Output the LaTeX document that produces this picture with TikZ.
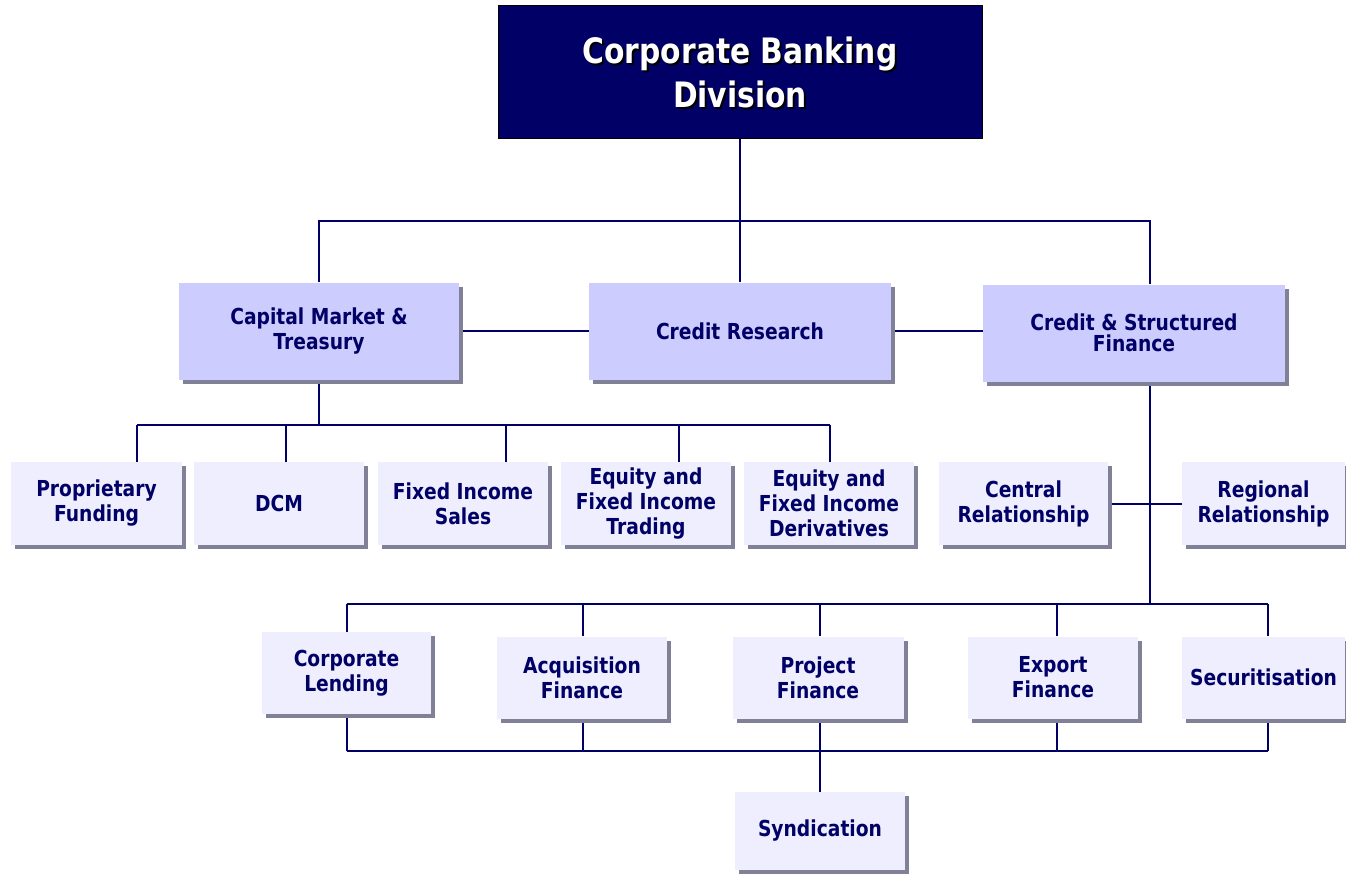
\documentclass[tikz,border=0pt]{standalone}
\usepackage{fontspec}
\setmainfont{DejaVu Sans}[FakeStretch=0.85]
\usetikzlibrary{shadows,backgrounds}

\definecolor{navy}{RGB}{0,0,102}
\definecolor{unitfill}{RGB}{204,204,255}
\definecolor{deskfill}{RGB}{238,238,255}
\definecolor{shadowgray}{RGB}{128,128,150}

\tikzset{
  link/.style={draw=navy, line width=2pt},
  unitbox/.style={fill=unitfill, text=navy, align=center, inner sep=0pt,
    font=\bfseries\fontsize{22}{25}\selectfont, minimum height=97pt,
    drop shadow={shadow xshift=4pt, shadow yshift=-4pt, fill=shadowgray, opacity=1}},
  deskbox/.style={unitbox, fill=deskfill, minimum width=170pt, minimum height=82pt},
  headtext/.style={font=\bfseries\fontsize{35}{44}\selectfont, align=center}
}

\begin{document}
\begin{tikzpicture}[x=1pt, y=-1pt]
  \useasboundingbox (0,0) rectangle (1346,873);

  % division
  \node[fill=navy, draw=black, line width=1pt, minimum width=484pt, minimum height=133pt] (div) at (740,72) {};
  \node[headtext, text=black] (divshade) at ([shift={(2,2)}]div.center) {Corporate Banking\\Division};
  \node[headtext, text=white] (divtitle) at (div.center) {Corporate Banking\\Division};

  % departments
  \node[unitbox, minimum width=280pt] (cmt) at (319,331) {Capital Market \&\\Treasury};
  \node[unitbox, minimum width=302pt] (cres) at (740,331) {Credit Research};
  \node[unitbox, minimum width=302pt, font=\bfseries\fontsize{22}{21}\selectfont] (csf) at (1134,333) {Credit \& Structured\\Finance};

  % desks under capital market
  \node[deskbox, minimum width=171pt, minimum height=83pt] (prop) at (96.5,503.5) {Proprietary\\Funding};
  \node[deskbox, minimum height=83pt] (dcm) at (279,503.5) {DCM};
  \node[deskbox, minimum height=83pt] (fis) at (463,503.5) {Fixed Income\\Sales};
  \node[deskbox, minimum height=83pt] (efit) at (646,503.5) {Equity and\\Fixed Income\\Trading};
  \node[deskbox, minimum height=83pt] (efid) at (829,503.5) {Equity and\\Fixed Income\\Derivatives};

  % desks under credit & structured finance
  \node[deskbox, minimum width=169pt, minimum height=83pt] (cent) at (1023.5,503.5) {Central\\Relationship};
  \node[deskbox, minimum width=163pt, minimum height=83pt] (reg) at (1263.5,503.5) {Regional\\Relationship};
  \node[deskbox, minimum width=169pt] (corp) at (346.5,673) {Corporate\\Lending};
  \node[deskbox] (acq) at (582,677.5) {Acquisition\\Finance};
  \node[deskbox, minimum width=171pt] (proj) at (818,677.5) {Project\\Finance};
  \node[deskbox] (expf) at (1053,677.5) {Export\\Finance};
  \node[deskbox, minimum width=163pt] (sec) at (1263.5,677.5) {Securitisation};
  \node[deskbox, minimum height=78pt] (synd) at (820,831) {Syndication};

  \begin{scope}[on background layer]
    \coordinate (hub) at (740,221);
    \draw[link] (div.south) -- (cres.north);
    \draw[link] (cmt.north) |- (hub) -| ([xshift=16pt]csf.north);
    \draw[link] (cmt.east) -- (cres.west);
    \draw[link] (cres.east) -- (cres.east -| csf.west);

    \coordinate (bus) at (319,425);
    \draw[link] (cmt.south) -- (bus);
    \foreach \desk/\x in {prop/137, dcm/286, fis/506, efit/679, efid/830} {
      \coordinate (leg-\desk) at (\x,425);
      \draw[link] (leg-\desk) -- (leg-\desk |- \desk.north);
    }
    \draw[link] (leg-prop) -- (leg-efid);

    \coordinate (spine) at (1150,604);
    \draw[link] ([xshift=16pt]csf.south) -- (spine);
    \draw[link] (cent.east) -- (reg.west);
    \foreach \desk/\x in {corp/347, acq/583, proj/820, expf/1057, sec/1268} {
      \coordinate (up-\desk) at (\x,604);
      \coordinate (dn-\desk) at (\x,751);
      \draw[link] (up-\desk) -- (up-\desk |- \desk.north);
      \draw[link] (dn-\desk) -- (dn-\desk |- \desk.south);
    }
    \draw[link] (up-corp) -- (up-sec);
    \draw[link] (dn-corp) -- (dn-sec);
    \draw[link] (dn-proj) -- (synd.north);
  \end{scope}
\end{tikzpicture}
\end{document}
